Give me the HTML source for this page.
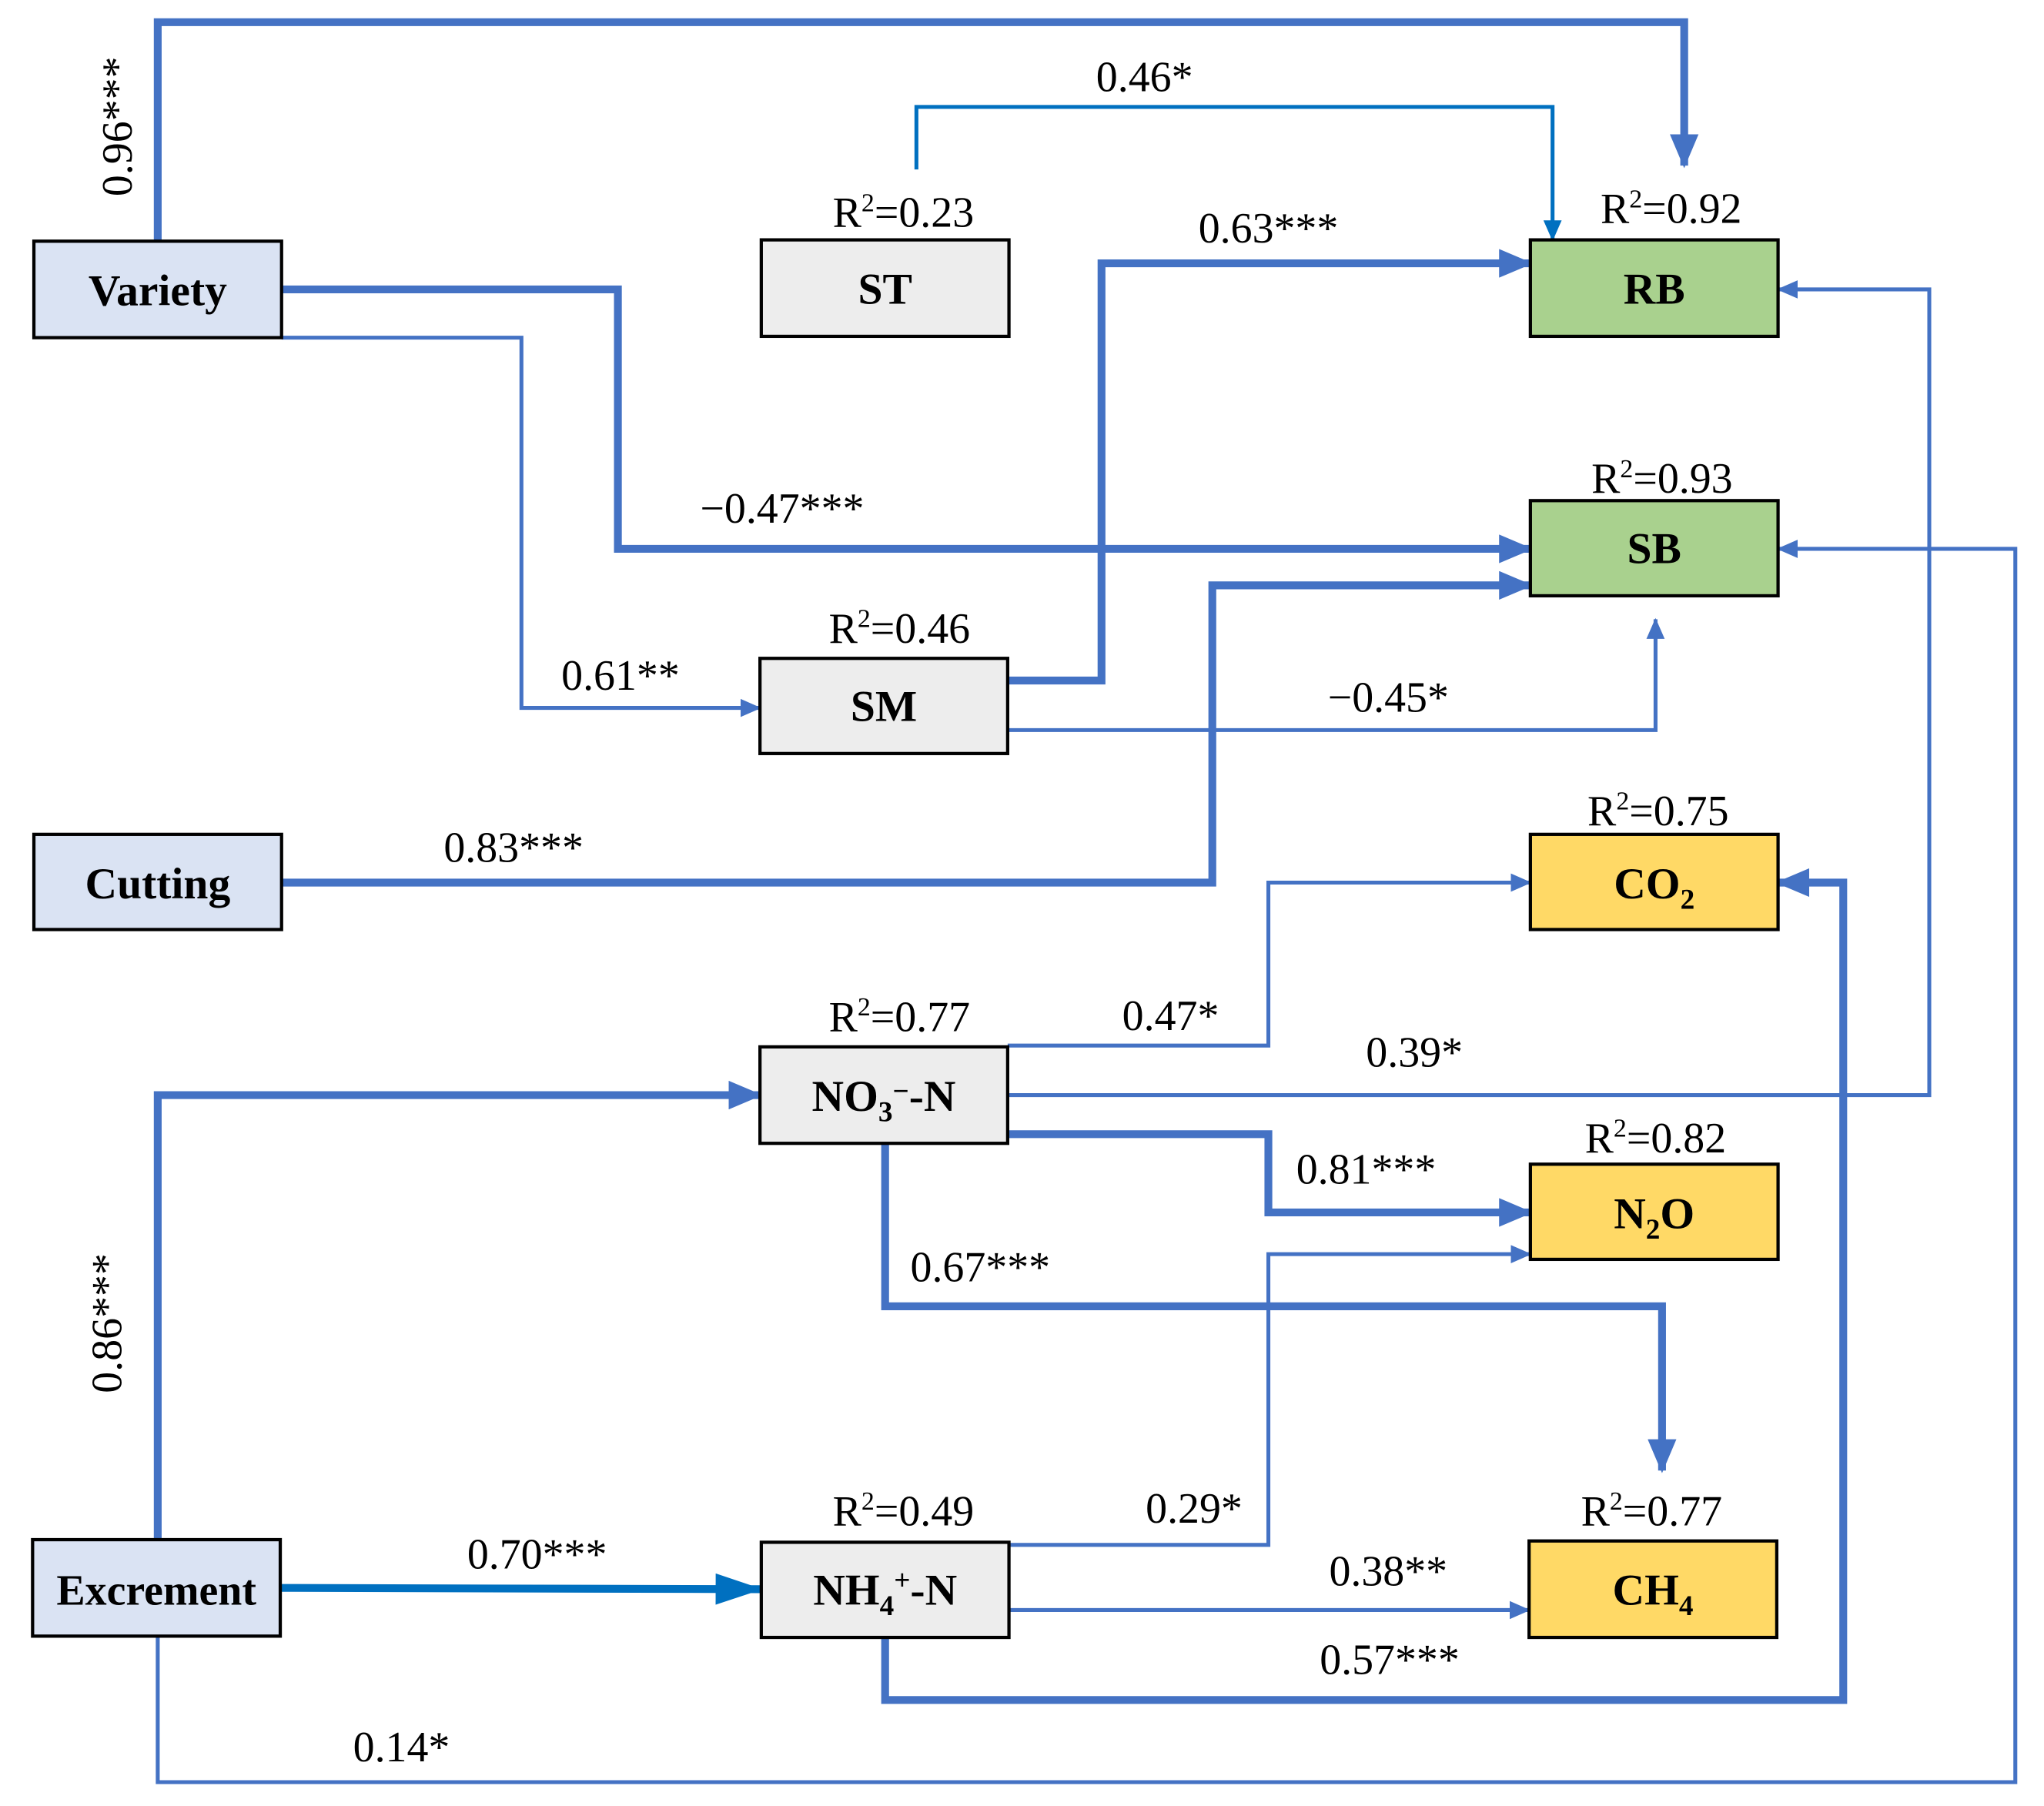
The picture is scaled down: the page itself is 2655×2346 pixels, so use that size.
<!DOCTYPE html>
<html><head><meta charset="utf-8"><style>html,body{margin:0;padding:0;background:#fff}svg{display:block}</style></head>
<body>
<svg width="2655" height="2346" viewBox="0 0 1568 1385.3" preserveAspectRatio="none" xmlns="http://www.w3.org/2000/svg" font-family="'Liberation Serif', serif">
<defs>
<marker id="a" markerUnits="userSpaceOnUse" markerWidth="26" markerHeight="22" refX="24" refY="11" orient="auto"><path d="M0,0 L26,11 L0,22 z" fill="#4472c4"/></marker>
<marker id="t" markerUnits="userSpaceOnUse" markerWidth="16" markerHeight="14" refX="15" refY="7" orient="auto"><path d="M0,0 L16,7 L0,14 z" fill="#4472c4"/></marker>
<marker id="b" markerUnits="userSpaceOnUse" markerWidth="16" markerHeight="14" refX="15" refY="7" orient="auto"><path d="M0,0 L16,7 L0,14 z" fill="#0070c0"/></marker>
<marker id="b2" markerUnits="userSpaceOnUse" markerWidth="36" markerHeight="24" refX="35" refY="12" orient="auto"><path d="M0,0 L36,12 L0,24 z" fill="#0070c0"/></marker>
</defs>
<g fill="none" stroke="#4472c4" stroke-linejoin="miter">
<polyline stroke-width="6" points="121,185 121,17 1292,17 1292,127" marker-end="url(#a)"/>
<polyline stroke="#0070c0" stroke-width="3" points="703,130 703,82 1191,82 1191,184" marker-end="url(#b)"/>
<polyline stroke-width="6" points="216,222 474,222 474,421 1174,421" marker-end="url(#a)"/>
<polyline stroke-width="3" points="216,259 400,259 400,543 583,543" marker-end="url(#t)"/>
<polyline stroke-width="6" points="773,522 845,522 845,202 1174,202" marker-end="url(#a)"/>
<polyline stroke-width="3" points="773,560 1270,560 1270,475" marker-end="url(#t)"/>
<polyline stroke-width="6" points="216,677 930,677 930,449 1174,449" marker-end="url(#a)"/>
<polyline stroke-width="3" points="773,802 973,802 973,677 1174,677" marker-end="url(#t)"/>
<polyline stroke-width="3" points="773,840 1480,840 1480,222 1364,222" marker-end="url(#t)"/>
<polyline stroke-width="6" points="773,870 973,870 973,930 1174,930" marker-end="url(#a)"/>
<polyline stroke-width="6" points="679,877 679,1002 1275,1002 1275,1128" marker-end="url(#a)"/>
<polyline stroke-width="6" points="121,1181 121,840 583,840" marker-end="url(#a)"/>
<polyline stroke="#0070c0" stroke-width="6" points="216,1218 584,1219" marker-end="url(#b2)"/>
<polyline stroke-width="3" points="774,1185 973,1185 973,962 1174,962" marker-end="url(#t)"/>
<polyline stroke-width="3" points="774,1235 1173,1235" marker-end="url(#t)"/>
<polyline stroke-width="6" points="679,1256 679,1304 1414,1304 1414,677 1364,677" marker-end="url(#a)"/>
<polyline stroke-width="3" points="121,1255 121,1367 1546,1367 1546,421 1364,421" marker-end="url(#t)"/>
</g>
<g stroke="#000" stroke-width="2.5">
<rect x="26" y="185" width="190" height="74" fill="#dae3f3"/>
<rect x="584" y="184" width="190" height="74" fill="#ededed"/>
<rect x="1174" y="184" width="190" height="74" fill="#a9d18e"/>
<rect x="1174" y="384" width="190" height="73" fill="#a9d18e"/>
<rect x="583" y="505" width="190" height="73" fill="#ededed"/>
<rect x="26" y="640" width="190" height="73" fill="#dae3f3"/>
<rect x="1174" y="640" width="190" height="73" fill="#ffd966"/>
<rect x="583" y="803" width="190" height="74" fill="#ededed"/>
<rect x="1174" y="893" width="190" height="73" fill="#ffd966"/>
<rect x="584" y="1183" width="190" height="73" fill="#ededed"/>
<rect x="1173" y="1182" width="190" height="74" fill="#ffd966"/>
<rect x="25" y="1181" width="190" height="74" fill="#dae3f3"/>
</g>
<g font-weight="bold" font-size="34" text-anchor="middle">
<text x="121" y="234">Variety</text>
<text x="679" y="233">ST</text>
<text x="1269" y="233">RB</text>
<text x="1269" y="432">SB</text>
<text x="678" y="553">SM</text>
<text x="121" y="689">Cutting</text>
<text x="1269" y="689">CO<tspan font-size="22" dy="8">2</tspan></text>
<text x="678" y="852">NO<tspan font-size="22" dy="8">3</tspan><tspan dy="-16" font-size="22">−</tspan><tspan dy="8">-N</tspan></text>
<text x="1269" y="942">N<tspan font-size="22" dy="8">2</tspan><tspan dy="-8">O</tspan></text>
<text x="679" y="1231">NH<tspan font-size="22" dy="8">4</tspan><tspan dy="-20" font-size="22">+</tspan><tspan dy="12">-N</tspan></text>
<text x="1268" y="1231">CH<tspan font-size="22" dy="8">4</tspan></text>
<text x="120" y="1231" font-size="33">Excrement</text>
</g>
<g font-size="33" text-anchor="middle">
<text x="693" y="174">R<tspan font-size="20" dy="-12">2</tspan><tspan dy="12">=0.23</tspan></text>
<text x="1282" y="171">R<tspan font-size="20" dy="-12">2</tspan><tspan dy="12">=0.92</tspan></text>
<text x="1275" y="378">R<tspan font-size="20" dy="-12">2</tspan><tspan dy="12">=0.93</tspan></text>
<text x="690" y="493">R<tspan font-size="20" dy="-12">2</tspan><tspan dy="12">=0.46</tspan></text>
<text x="1272" y="633">R<tspan font-size="20" dy="-12">2</tspan><tspan dy="12">=0.75</tspan></text>
<text x="690" y="791">R<tspan font-size="20" dy="-12">2</tspan><tspan dy="12">=0.77</tspan></text>
<text x="1270" y="884">R<tspan font-size="20" dy="-12">2</tspan><tspan dy="12">=0.82</tspan></text>
<text x="693" y="1170">R<tspan font-size="20" dy="-12">2</tspan><tspan dy="12">=0.49</tspan></text>
<text x="1267" y="1170">R<tspan font-size="20" dy="-12">2</tspan><tspan dy="12">=0.77</tspan></text>
<text x="878" y="70">0.46*</text>
<text x="973" y="186">0.63***</text>
<text x="600" y="401">−0.47***</text>
<text x="476" y="529">0.61**</text>
<text x="1065" y="546">−0.45*</text>
<text x="394" y="661">0.83***</text>
<text x="898" y="790">0.47*</text>
<text x="1085" y="818">0.39*</text>
<text x="1048" y="908">0.81***</text>
<text x="752" y="983">0.67***</text>
<text x="412" y="1203">0.70***</text>
<text x="916" y="1168">0.29*</text>
<text x="1065" y="1216">0.38**</text>
<text x="1066" y="1284">0.57***</text>
<text x="308" y="1351">0.14*</text>
<text transform="translate(101,97) rotate(-90)">0.96***</text>
<text transform="translate(93,1015) rotate(-90)">0.86***</text>
</g>
</svg>
</body></html>
